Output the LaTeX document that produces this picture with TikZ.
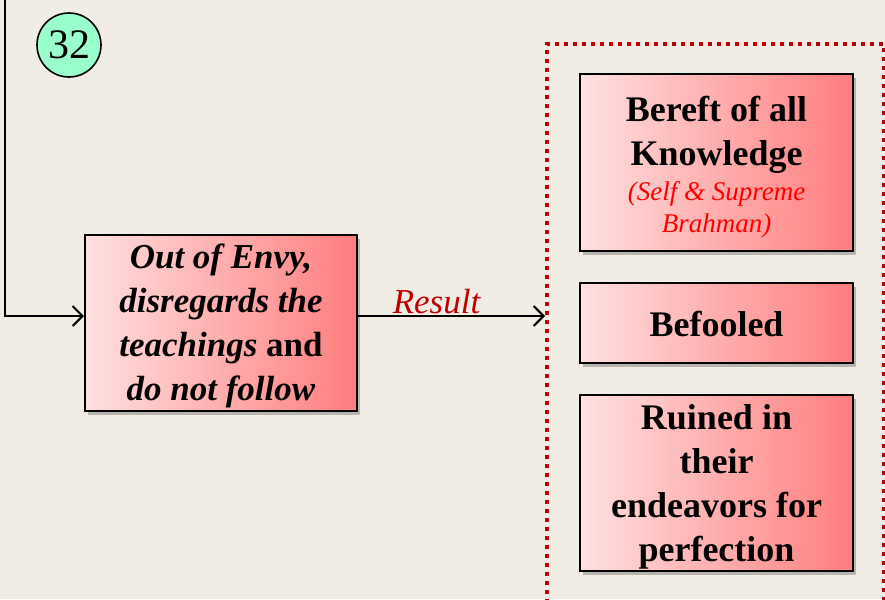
\documentclass[tikz,border=0pt]{standalone}
\usepackage{fontspec}
\setmainfont{Liberation Serif}
\usetikzlibrary{arrows.meta,shadows,calc}
\definecolor{bgc}{RGB}{241,237,229}
\definecolor{pinkL}{RGB}{255,224,224}
\definecolor{pinkR}{RGB}{255,125,125}
\definecolor{aqua}{RGB}{153,255,204}
\definecolor{dred}{RGB}{192,0,0}
\definecolor{bred}{RGB}{255,0,0}
\tikzset{
  gbox/.style={draw=black, line width=2pt, left color=pinkL, right color=pinkR,
    inner sep=0pt,
    drop shadow={shadow xshift=3pt, shadow yshift=-4pt, opacity=0.35, fill=black!70}},
  boxtext/.style={align=center, inner sep=0pt, font=\bfseries\fontsize{36}{44}\selectfont},
  conn/.style={draw=black, line width=2pt, -{Straight Barb[length=10pt,width=20pt,line width=2pt]}},
  groupbox/.style={draw=dred, line width=4pt, dash pattern=on 4pt off 5pt, fill=none},
  numcirc/.style={circle, draw=black, line width=1.6pt, fill=aqua, minimum size=64pt, inner sep=0pt,
    font=\fontsize{42}{42}\selectfont},
  reslabel/.style={text=dred, font=\itshape\fontsize{35}{36}\selectfont, inner sep=0pt}
}
\begin{document}
\begin{tikzpicture}[x=1pt,y=-1pt]
\fill[bgc] (0,0) rectangle (885,599);
\useasboundingbox (0,0) rectangle (885,599);

\node[numcirc] (num) at (69,45) {32};

\node[groupbox, minimum width=337pt, minimum height=616pt] (grp) at (715.5,352) {};

\node[gbox, minimum width=272pt, minimum height=176pt] (main) at (221,323) {};
\node[boxtext, font=\bfseries\itshape\fontsize{35}{44}\selectfont] (maint) at ([yshift=-3pt]main.center)
  {Out of Envy,\\ disregards the\\ teachings \upshape and\\ do not follow};

\node[gbox, minimum width=273pt, minimum height=177pt] (b1) at (716.5,162.5) {};
\node[boxtext] (b1t) at ([yshift=-5pt]b1.center)
  {Bereft of all\\ Knowledge\\[-9pt] \textcolor{bred}{\mdseries\itshape\fontsize{27}{32}\selectfont (Self \& Supreme}\\[-12pt] \textcolor{bred}{\mdseries\itshape\fontsize{27}{32}\selectfont Brahman)}};

\node[gbox, minimum width=273pt, minimum height=80pt] (b2) at (716.5,323) {};
\node[boxtext] (b2t) at ([yshift=-1pt]b2.center) {Befooled};

\node[gbox, minimum width=273pt, minimum height=176pt] (b3) at (716.5,483) {};
\node[boxtext] (b3t) at ([yshift=-4pt]b3.center)
  {Ruined in\\ their\\ endeavors for\\ perfection};

\coordinate (start) at (5,-5);
\draw[conn] (start) |- ([yshift=7pt]main.west);
\draw[conn] ([yshift=7pt]main.east) -- node[reslabel, pos=0.42, above=1pt] (res) {Result} ([yshift=7pt]main.east -| grp.west);
\end{tikzpicture}
\end{document}
